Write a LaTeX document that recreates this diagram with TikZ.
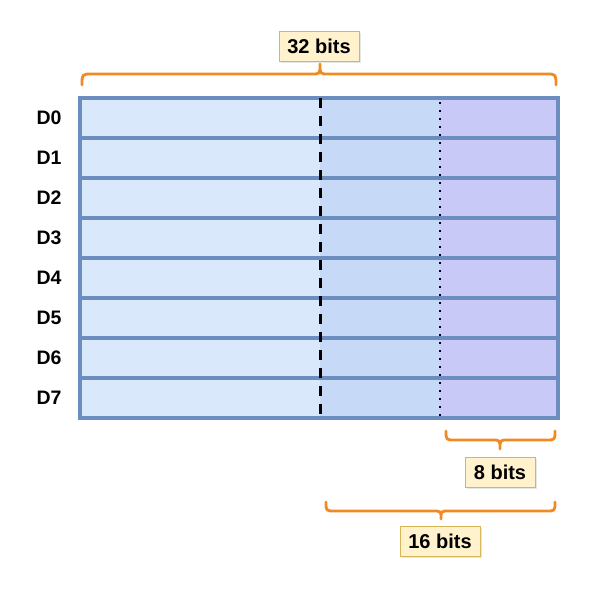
\documentclass[tikz,border=0pt]{standalone}
\usepackage{fontspec}
\setmainfont{Liberation Sans}
\usetikzlibrary{shadows}
\definecolor{regline}{HTML}{6C8EBF}
\definecolor{fillA}{HTML}{DAE8FC}
\definecolor{fillB}{HTML}{C6D9F6}
\definecolor{fillC}{HTML}{C9C9F7}
\definecolor{braceor}{HTML}{F28A24}
\definecolor{notefill}{HTML}{FFF2CC}
\definecolor{noteline}{HTML}{D6B656}
\tikzset{
  rowbox/.style={draw=regline, line width=3.5pt, minimum width=478pt, minimum height=40pt, inner sep=0pt},
  seg/.style={inner sep=0pt, minimum height=40pt},
  rowlabel/.style={font=\fontsize{19.5}{22}\selectfont\bfseries, text=black},
  note/.style={draw=noteline, line width=0.8pt, fill=notefill, inner sep=0pt, minimum height=30pt,
    font=\fontsize{20}{24}\selectfont\bfseries,
    drop shadow={opacity=0.2, shadow xshift=2pt, shadow yshift=-2pt}},
  bracestyle/.style={draw=braceor, line width=2.8pt, line cap=round, line join=round},
}
\begin{document}
\begin{tikzpicture}[x=1pt,y=-1pt]
\useasboundingbox (0,0) rectangle (599,593);
% register background segments
\fill[fillA] (80,98) rectangle (320,418);
\fill[fillB] (320,98) rectangle (440,418);
\fill[fillC] (440,98) rectangle (558,418);
% rows
\foreach \i in {0,...,7}{
  \node[rowbox] (r\i) at (319,{118+40*\i}) {};
  \node[rowlabel] (d\i) at (49,{118+40*\i}) {D\i};
}
% split lines
\coordinate (dashtop) at (320,98);
\coordinate (dashbot) at (320,418);
\coordinate (dottop) at (440,98);
\coordinate (dotbot) at (440,418);
\draw[black, line width=3pt, dash pattern=on 10pt off 8pt] (dashtop) -- (dashbot);
\draw[black!80!blue, line width=1.8pt, dash pattern=on 1.8pt off 6.2pt, dash phase=-4pt] (dottop) -- (dotbot);
% top brace 32 bits
\coordinate (ta) at (82,85);
\coordinate (tb) at (556,85);
\coordinate (tt) at (320,64);
\draw[bracestyle] (ta) .. controls (82,74) .. (92,74) -- (312,74) .. controls (320,74) .. (tt)
  .. controls (320,74) .. (328,74) -- (546,74) .. controls (556,74) .. (tb);
\node[note, minimum width=80pt] (n32) at (319,46) {32 bits};
% 8 bits brace
\coordinate (ea) at (446,431);
\coordinate (eb) at (555,431);
\coordinate (et) at (500,449);
\draw[bracestyle] (ea) .. controls (446,440) .. (455,440) -- (492,440) .. controls (500,440) .. (et)
  .. controls (500,440) .. (508,440) -- (546,440) .. controls (555,440) .. (eb);
\node[note, minimum width=70pt] (n8) at (500,472) {8 bits};
% 16 bits brace
\coordinate (sa) at (326,502);
\coordinate (sb) at (555,502);
\coordinate (st) at (441,519);
\draw[bracestyle] (sa) .. controls (326,511) .. (335,511) -- (433,511) .. controls (441,511) .. (st)
  .. controls (441,511) .. (449,511) -- (546,511) .. controls (555,511) .. (sb);
\node[note, minimum width=80pt] (n16) at (440,541) {16 bits};
\end{tikzpicture}
\end{document}
